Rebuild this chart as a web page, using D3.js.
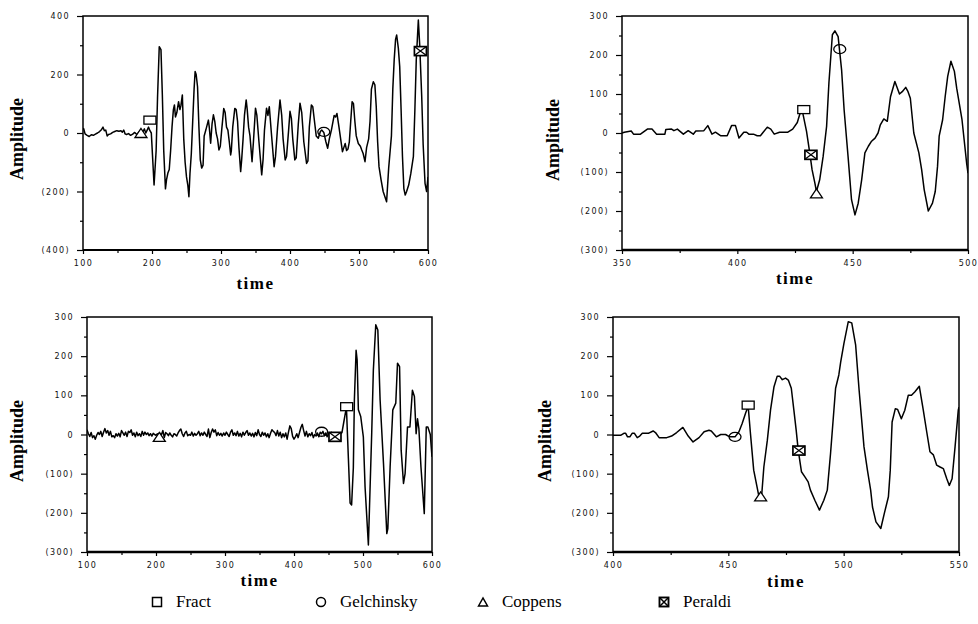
<!DOCTYPE html>
<html>
<head>
<meta charset="utf-8">
<script src="https://cdn.jsdelivr.net/npm/d3@7"></script>
<style>
  body { margin: 0; background: #fff; }
  svg { display: block; }
</style>
</head>
<body>
<svg id="fig" width="978" height="624"></svg>
<script>
// ---- Seismic traces: [time, amplitude] ----
const traceA = [
  [100,10],[101,15],[103,-3],[106,-8],[109,-12],[112,-6],[115,-8],[118,-4],[121,0],[124,5],
  [127,12],[129,20],[131,8],[133,10],[135,-10],[137,-5],[140,-3],[143,2],[146,5],[149,8],
  [152,6],[155,8],[157,3],[159,10],[161,-3],[163,-5],[166,-2],[169,-8],[172,-4],[175,2],
  [178,-5],[181,3],[184,8],[187,5],[189,14],[191,0],[193,10],[195,20],[197,8],[199,0],
  [203,-178],[206,-60],[208,120],[210.5,295],[213,285],[215,130],[217,-60],[219.5,-191],[221,-160],[223,-137],
  [225,-125],[227,-60],[229,20],[231,80],[232.5,96],[234,55],[236,70],[238.5,107],[240.5,80],[242,95],
  [244,130],[246,-20],[248,-100],[250,-150],[252,-180],[253.5,-218],[255,-140],[257,-70],[259,40],[261,150],
  [262.5,210],[264,200],[266,158],[268,20],[270,-92],[272,-120],[274,-110],[275.6,-10],[278,10],[281.7,44],
  [283,20],[285,-35],[287,30],[289,62],[291,40],[293,0],[295,-20],[297,-58],[299,-45],[301,10],
  [304,84],[306,70],[308,20],[310,10],[312,-30],[314,-75],[315,-60],[317,20],[320,84],[322,80],
  [324,40],[326,-50],[328.5,-132],[330,-90],[332,-20],[334,60],[336.5,113],[338,80],[340,20],[342,-10],
  [345,-98],[347,-30],[350,85],[352,60],[355,-30],[359,-143],[361,-90],[363,10],[366,85],[368,60],
  [370,90],[373,0],[377,-115],[379,-80],[382,20],[385.5,113],[388,60],[390,-20],[393,-92],[395,-80],
  [398,10],[400,74],[402,50],[404,-20],[407,-92],[409,-85],[412,30],[414.5,102],[417,70],[420,-30],
  [424,-104],[426,-95],[428,20],[431,96],[433,90],[436,30],[438,-10],[441,-18],[444,5],[446,10],
  [449,2],[452,-30],[454.6,-52],[457,-20],[460,10],[464,60],[466,55],[468,67],[471,20],[474,-30],
  [476,-64],[478,-50],[480,-36],[482,-60],[484,-55],[486,-30],[488,40],[490,107],[492,100],[494,40],
  [496,-10],[499,-36],[502,-45],[504,-58],[506,-70],[508.7,-98],[511,-50],[514,-20],[516,40],[518,150],
  [520.8,175],[523,165],[525,90],[527,-30],[529,-115],[532,-160],[535,-200],[540,-235],[543,-120],[547,-10],
  [549,150],[551,250],[553,320],[554.6,335],[557,290],[559,227],[561,80],[563,-80],[565,-190],[567,-212],
  [569,-200],[572,-178],[575,-140],[578.8,-81],[581,80],[583,250],[586,386],[588,300],[590.9,124],[593,-40],
  [595.7,-172],[598,-200],[600,-150]
];

const traceB = [
  [350,0],[351,2],[354,5],[355,-3],[358,-3],[361,10],[363,10],[365,-3],[368.6,-3],[369,9],
  [371.5,10],[372.5,6],[374,10],[376.6,-3],[378.7,6],[380.9,-3],[382,5],[385.5,6],[387.2,19],[389,-3],
  [390.5,2],[392.7,-7],[395.6,-7],[397.5,19],[399.2,19],[400.7,-13],[402.8,2],[404,2],[405,-3],[407,-3],
  [408.6,-7],[410,-7],[413,15],[414.5,10],[416,-3],[418.3,2],[421.9,2],[424,10],[426,27],[427,47],
  [428,62],[430,4],[431.4,-51],[432.4,-94],[433.6,-128],[434.3,-150],[435.7,-120],[437.2,-60],[438.7,17],[439.7,128],
  [441.2,252],[442.3,262],[443.7,247],[445.2,162],[446.3,59],[448,-60],[449.5,-171],[451,-210],[452.4,-180],[453.9,-120],
  [455.3,-51],[456.8,-34],[458.2,-21],[459.7,-13],[461,0],[462,21],[463.5,36],[465,30],[466.4,93],[468.3,132],
  [470.3,100],[471.5,106],[473,117],[474,106],[475,89],[476.5,0],[478.7,-51],[479.9,-94],[481,-145],[482.8,-200],
  [484.6,-180],[485.8,-150],[486.8,-85],[487.5,-8],[489,34],[490.1,93],[491.2,145],[492.6,184],[494.1,158],[495.1,115],
  [497.4,34],[499.4,-77],[500,-103]
];

const traceC = [
  [100,12],[102,2],[104,-5],[106,5],[108,-8],[110,-3],[112,-12],[114,-2],[116,5],[118,0],
  [120,8],[122,-5],[124,6],[126,15],[128,4],[130,10],[132,-2],[134,8],[136,-6],[138,-3],
  [140,-8],[142,2],[144,-4],[146,3],[148,-6],[150,10],[152,4],[154,-2],[156,6],[158,-5],
  [160,8],[162,5],[164,12],[166,-2],[168,4],[170,-6],[172,6],[174,-3],[176,2],[178,-5],
  [180,8],[182,-2],[184,6],[186,0],[188,4],[190,-3],[192,2],[194,-4],[196,3],[198,0],
  [200,-2],[202,2],[204,-5],[206,3],[208,0],[210,10],[212,-8],[214,5],[216,2],[218,-3],
  [220,4],[222,-2],[224,-6],[226,2],[228,0],[230,-4],[232,4],[234,10],[236,14],[238,2],
  [240,-5],[242,4],[244,8],[246,-3],[248,0],[250,-2],[252,6],[254,-4],[256,3],[258,-2],
  [260,2],[262,8],[264,-3],[266,4],[268,-2],[270,6],[272,0],[274,-5],[276,14],[278,-8],
  [280,5],[282,14],[284,6],[286,12],[288,-3],[290,5],[292,-2],[294,3],[296,-4],[298,4],
  [300,-2],[302,6],[304,0],[306,-5],[308,6],[310,12],[312,-2],[314,4],[316,-3],[318,8],
  [320,-4],[322,3],[324,-6],[326,6],[328,-2],[330,5],[332,10],[334,-2],[336,4],[338,-4],
  [340,3],[342,-6],[344,5],[346,-3],[348,12],[350,0],[352,-5],[354,6],[356,-2],[358,4],
  [360,-6],[362,2],[364,-8],[366,3],[368,12],[370,8],[372,5],[374,-3],[376,10],[378,-4],
  [380,6],[382,-8],[384,2],[386,-6],[388,4],[390,-12],[392,6],[394,22],[396,15],[398,-5],
  [400,-12],[402,-6],[404,2],[406,-8],[408,5],[410,18],[412,26],[414,10],[416,-4],[418,8],
  [420,-6],[422,2],[424,-3],[426,5],[428,-8],[430,0],[432,-4],[434,4],[436,-6],[438,6],
  [440,2],[442,8],[444,-3],[446,4],[448,-6],[450,3],[452,-4],[454,6],[456,-2],[458,-5],
  [460,2],[462,-4],[464,4],[466,-2],[468,3],[469.5,5],[472,30],[474.5,55],[476,68],[478.8,-60],
  [481.3,-175],[483.5,-180],[486,-85],[487.5,88],[490,215],[491.5,190],[493.3,63],[496.7,46],[500.5,-6],[503,-134],
  [507.8,-282],[512.6,2],[515,164],[518.5,280],[521.5,267],[524.8,88],[529.7,-74],[534.5,-253],[536,-240],[539.3,-83],
  [543.2,63],[547.5,80],[550,182],[553,173],[555.3,-40],[558.7,-125],[561,-100],[564.5,19],[568,19],[571.6,113],
  [574.5,97],[577,2],[579,40],[581,15],[584,-83],[588.8,-202],[591.7,19],[594,19],[597.5,0],[600,-57]
];

const traceD = [
  [400,-2],[403.3,-2],[404.7,3],[405.5,3],[406.3,-6],[407.3,-6],[408.3,3],[409.3,3],[410.5,-8],[411.6,-4],
  [412.7,3],[415.3,3],[417.4,9],[418.4,5],[420,-8],[423.3,-8],[425.4,-4],[427.6,5],[430.3,18],[432.6,-4],
  [434.7,-19],[437.3,-8],[439.5,7],[441.6,11],[442.6,9],[444.8,-6],[446.7,0],[448.8,0],[450.6,-6],[452.9,-6],
  [454.6,7],[456,28],[457.5,55],[458.6,72],[459.6,2],[461,-91],[463.3,-159],[464.5,-152],[465.4,-83],[466.9,-15],
  [468.3,63],[469.8,122],[471.2,149],[472.2,149],[473.4,140],[474.8,144],[476,139],[477.3,118],[478.4,63],[479.4,12],
  [480.3,-40],[481.7,-95],[483.2,-108],[484.6,-121],[485.6,-142],[487.5,-168],[489.5,-193],[491.4,-168],[492.9,-142],[494.3,-49],
  [496.5,118],[497.9,152],[498.7,185],[500.1,232],[502,288],[503.5,285],[505.2,228],[506.7,113],[508.8,-31],[510.3,-91],
  [511.7,-142],[512.5,-185],[514,-223],[516.1,-240],[517.6,-202],[519.4,-159],[520.2,-91],[521,32],[522.4,66],[523.4,64],
  [525,40],[526.5,62],[528,100],[529.4,100],[530.9,109],[532.8,123],[534.5,63],[536,7],[537.4,-44],[538.9,-52],
  [540.3,-78],[541.8,-83],[543.2,-87],[544.7,-113],[545.8,-130],[547,-113],[548.3,-31],[549.7,63],[550,70]
];

// ---- Arrival picks: [method, time, amplitude] ----
const picksA = [["Fract",197,44],["Gelchinsky",449,4],["Coppens",184,0],["Peraldi",589,280]];
const picksB = [["Fract",428.8,60],["Gelchinsky",444.4,215],["Coppens",434.3,-155],["Peraldi",431.9,-56]];
const picksC = [["Fract",476.3,71],["Gelchinsky",440,7],["Coppens",204.8,-6],["Peraldi",459.4,-6]];
const picksD = [["Fract",458.6,75],["Gelchinsky",452.9,-6],["Coppens",464,-158],["Peraldi",480.6,-41]];

// ---- Axis ticks ----
const timeTicksWide = [100,200,300,400,500,600];
const timeTicksB = [350,400,450,500];
const timeTicksD = [400,450,500,550];
const ampTicksA = [-400,-200,0,200,400];
const ampTicks300 = [-300,-200,-100,0,100,200,300];

const methods = ["Fract","Gelchinsky","Coppens","Peraldi"];

// ---- Layout ----
const svg = d3.select("#fig");
const panels = [
  { trace: traceA, picks: picksA, xDom: [100,600], yDom: [-400,400], xT: timeTicksWide, xStep: 50, yT: ampTicksA, yStep: 100,
    box: [83, 16, 428, 250], timeY: 289, ampX: 19, ampY: 139, bottomW: 2 },
  { trace: traceB, picks: picksB, xDom: [350,500], yDom: [-300,300], xT: timeTicksB, xStep: 25, yT: ampTicks300, yStep: 50,
    box: [622, 16, 968, 250], timeY: 284, ampX: 555, ampY: 140, bottomW: 2.6 },
  { trace: traceC, picks: picksC, xDom: [100,600], yDom: [-300,300], xT: timeTicksWide, xStep: 50, yT: ampTicks300, yStep: 50,
    box: [87, 317, 432, 552], timeY: 586, ampX: 19, ampY: 441, bottomW: 2.6 },
  { trace: traceD, picks: picksD, xDom: [400,550], yDom: [-300,300], xT: timeTicksD, xStep: 25, yT: ampTicks300, yStep: 50,
    box: [613, 317, 959, 552], timeY: 587, ampX: 547, ampY: 441, bottomW: 2.6 }
];

const fmtAmp = v => v < 0 ? `(${-v})` : `${v}`;
const range = (a, b, s) => d3.range(a, b + s / 2, s);

function drawMarker(g, kind, cx, cy, w, h, sw) {
  if (kind === "Fract") {
    g.append("rect").attr("x", cx - w / 2).attr("y", cy - h / 2).attr("width", w).attr("height", h)
      .attr("fill", "#fff").attr("stroke", "#000").attr("stroke-width", sw);
  } else if (kind === "Gelchinsky") {
    g.append("ellipse").attr("cx", cx).attr("cy", cy).attr("rx", w / 2).attr("ry", h / 2)
      .attr("fill", "none").attr("stroke", "#000").attr("stroke-width", sw);
  } else if (kind === "Coppens") {
    g.append("path").attr("d", `M${cx - w / 2},${cy + h / 2}L${cx},${cy - h / 2}L${cx + w / 2},${cy + h / 2}Z`)
      .attr("fill", "#fff").attr("stroke", "#000").attr("stroke-width", sw);
  } else {
    g.append("rect").attr("x", cx - w / 2).attr("y", cy - h / 2).attr("width", w).attr("height", h)
      .attr("fill", "#fff").attr("stroke", "#000").attr("stroke-width", sw + 0.4);
    g.append("path")
      .attr("d", `M${cx - w / 2},${cy - h / 2}L${cx + w / 2},${cy + h / 2}M${cx + w / 2},${cy - h / 2}L${cx - w / 2},${cy + h / 2}`)
      .attr("stroke", "#000").attr("stroke-width", sw);
  }
}

const markerSize = { Fract: [12, 8], Gelchinsky: [12, 9], Coppens: [12, 9], Peraldi: [12, 9] };

panels.forEach((p, i) => {
  const [x0, y0, x1, y1] = p.box;
  const x = d3.scaleLinear().domain(p.xDom).range([x0, x1]);
  const y = d3.scaleLinear().domain(p.yDom).range([y1, y0]);
  const g = svg.append("g");

  const clipId = `clip${i}`;
  g.append("clipPath").attr("id", clipId)
    .append("rect").attr("x", x0).attr("y", y0).attr("width", x1 - x0).attr("height", y1 - y0);

  // minor ticks
  const yMinor = range(p.yDom[0], p.yDom[1], p.yStep).filter(v => !p.yT.includes(v));
  const xMinor = range(p.xDom[0], p.xDom[1], p.xStep).filter(v => !p.xT.includes(v));
  g.append("g").attr("transform", `translate(${x0},0)`)
    .call(d3.axisLeft(y).tickValues(yMinor).tickSize(3).tickFormat(""))
    .call(a => a.select(".domain").remove());
  g.append("g").attr("transform", `translate(0,${y1})`)
    .call(d3.axisBottom(x).tickValues(xMinor).tickSize(3).tickFormat(""))
    .call(a => a.select(".domain").remove());

  // major ticks with labels
  const yAx = g.append("g").attr("transform", `translate(${x0},0)`)
    .call(d3.axisLeft(y).tickValues(p.yT).tickSize(6).tickPadding(7).tickFormat(fmtAmp));
  const xAx = g.append("g").attr("transform", `translate(0,${y1})`)
    .call(d3.axisBottom(x).tickValues(p.xT).tickSize(4).tickPadding(6).tickFormat(d3.format("d")));
  [yAx, xAx].forEach(a => {
    a.select(".domain").remove();
    a.selectAll("line").attr("stroke", "#000").attr("stroke-width", 1.2);
    a.selectAll("text").attr("font-family", "DejaVu Sans, Verdana, sans-serif")
      .attr("font-size", 8).attr("letter-spacing", 1.4).attr("fill", "#111");
  });
  g.selectAll(".tick line").attr("stroke", "#000").attr("stroke-width", 1.2);

  // frame
  g.append("rect").attr("x", x0).attr("y", y0).attr("width", x1 - x0).attr("height", y1 - y0)
    .attr("fill", "none").attr("stroke", "#000").attr("stroke-width", 1.5);
  g.append("line").attr("x1", x0).attr("x2", x1).attr("y1", y1).attr("y2", y1)
    .attr("stroke", "#000").attr("stroke-width", p.bottomW);

  // trace
  const line = d3.line().x(d => x(d[0])).y(d => y(d[1]));
  g.append("path").datum(p.trace).attr("d", line).attr("clip-path", `url(#${clipId})`)
    .attr("fill", "none").attr("stroke", "#000").attr("stroke-width", 1.5).attr("stroke-linejoin", "round");

  // picks
  p.picks.forEach(([m, t, a]) => {
    const [w, h] = markerSize[m];
    drawMarker(g, m, x(t), y(a), w, h, 1.3);
  });

  // axis titles
  g.append("text").attr("x", (x0 + x1) / 2).attr("y", p.timeY).attr("text-anchor", "middle")
    .attr("font-family", "Liberation Serif, Times New Roman, serif").attr("font-weight", "bold")
    .attr("font-size", 17).attr("letter-spacing", 1.5).text("time");
  g.append("text").attr("transform", `translate(${p.ampX},${p.ampY}) rotate(-90)`).attr("text-anchor", "middle")
    .attr("dominant-baseline", "middle")
    .attr("font-family", "Liberation Serif, Times New Roman, serif").attr("font-weight", "bold")
    .attr("font-size", 18).text("Amplitude");
});

// ---- Legend ----
const legendX = [157, 321, 483, 664];
const lg = svg.append("g");
methods.forEach((m, i) => {
  drawMarker(lg, m, legendX[i], 602, 9, m === "Coppens" ? 8 : 9, 1.5);
  lg.append("text").attr("x", legendX[i] + 19).attr("y", 607)
    .attr("font-family", "Liberation Serif, Times New Roman, serif").attr("font-size", 17).text(m);
});
</script>
</body>
</html>
